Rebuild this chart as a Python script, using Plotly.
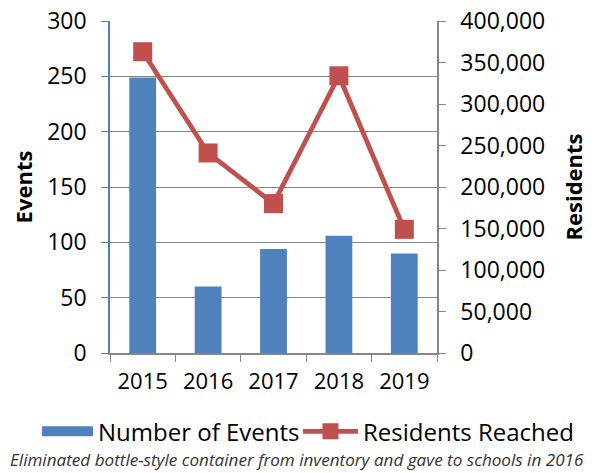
import plotly.graph_objects as go

years = ["2015", "2016", "2017", "2018", "2019"]
events = [249, 60, 94, 106, 90]
residents = [363000, 241000, 180000, 334000, 149000]
left_ticks = [0, 50, 100, 150, 200, 250, 300]
right_ticks = [0, 50000, 100000, 150000, 200000, 250000, 300000, 350000, 400000]

FONT = "Open Sans"
BLUE = "#4F81BD"
RED = "#C0504D"
GRID = "#868686"

fig = go.Figure()
fig.add_trace(go.Bar(x=years, y=events, name="Number of Events",
                     marker=dict(color=BLUE, line=dict(width=0)),
                     width=0.41, yaxis="y", showlegend=False))
# legend proxy for the bar series (wide rectangular swatch)
fig.add_trace(go.Scatter(x=[None], y=[None], name="Number of Events", mode="lines",
                         line=dict(color=BLUE, width=15), yaxis="y", legend="legend"))
fig.add_trace(go.Scatter(x=years, y=residents, name="Residents Reached",
                         mode="lines+markers",
                         line=dict(color=RED, width=4.8),
                         marker=dict(symbol="square", size=19, color=RED),
                         yaxis="y2", legend="legend2"))

legend_common = dict(orientation="h", yanchor="middle", xanchor="left",
                      font=dict(family=FONT, size=24, color="black"),
                      bgcolor="rgba(0,0,0,0)")

fig.update_layout(
    width=588, height=465,
    margin=dict(l=102, r=159, t=13, b=120, autoexpand=False),
    plot_bgcolor="white", paper_bgcolor="white",
    font=dict(family=FONT, size=22, color="black"),
    showlegend=True,
    legend=dict(x=-0.2232, y=-0.237, itemwidth=51, **legend_common),
    legend2=dict(x=0.5749, y=-0.237, itemwidth=55, **legend_common),
    xaxis=dict(type="category", tickson="boundaries", ticks="outside", ticklen=7,
               tickcolor=GRID, showline=True, linecolor=GRID, linewidth=1.5,
               showgrid=False, tickfont=dict(size=22), automargin=False,
               ticklabelstandoff=8),
    yaxis=dict(range=[0, 300], tickvals=left_ticks, ticks="outside", ticklen=7,
               tickcolor=BLUE, showline=True, linecolor=BLUE, linewidth=1.5,
               showgrid=True, gridcolor=GRID, gridwidth=1.2, zeroline=False,
               automargin=False, tickfont=dict(size=23), ticklabelstandoff=10,
               ticklabeloverflow="allow",
               title=dict(text="<b>Events</b>", font=dict(size=22), standoff=15)),
    yaxis2=dict(range=[0, 400000], tickvals=right_ticks, tickformat=",d",
                overlaying="y", side="right", ticks="outside", ticklen=7,
                tickcolor=GRID, showline=True, linecolor=GRID, linewidth=1.5,
                showgrid=False, zeroline=False, automargin=False,
                tickfont=dict(size=23), ticklabelstandoff=10,
                ticklabeloverflow="allow",
                title=dict(text="<b>Residents</b>", font=dict(size=22), standoff=22)),
    bargap=0.59,
)

fig.add_annotation(text="<i>Eliminated bottle-style container from inventory and gave to schools in 2016</i>",
                   xref="paper", yref="paper", x=(289 - 102) / 327, y=-0.322,
                   xanchor="center", yanchor="middle",
                   showarrow=False, font=dict(family=FONT, size=17.1, color="#333333"))

fig.write_html("out.html")
